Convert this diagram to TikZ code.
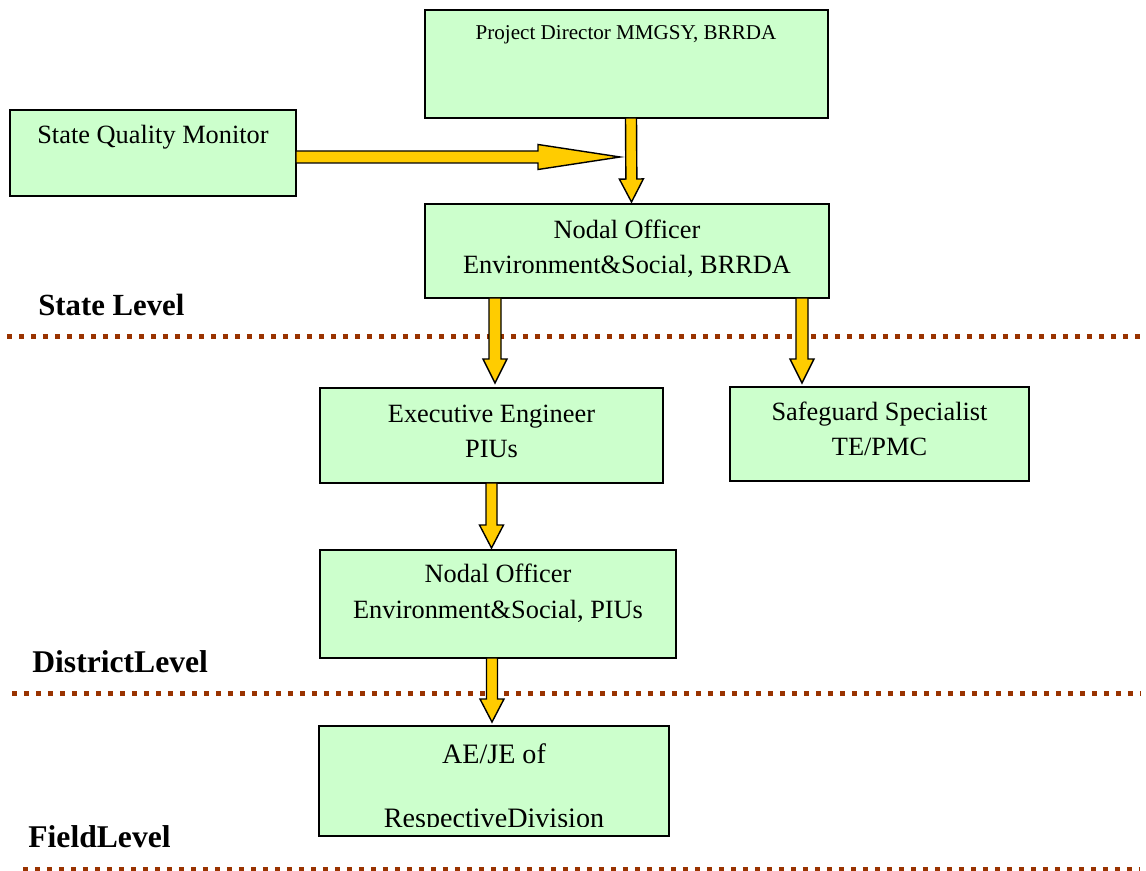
\documentclass[tikz,border=0pt]{standalone}
\usepackage{fontspec}
\setmainfont{Liberation Serif}
\usepackage{xcolor}
\usetikzlibrary{calc}
\definecolor{boxgreen}{RGB}{204,255,204}
\definecolor{arrowgold}{RGB}{255,204,0}
\definecolor{levelbrown}{RGB}{153,51,0}
\tikzstyle{unitbox} = [draw=black, line width=1pt, fill=boxgreen, inner sep=0pt, outer sep=0pt]
\tikzstyle{boxtext} = [font=\fontsize{15}{20}\selectfont, align=center, anchor=base, inner sep=0pt]
\tikzstyle{leveltext} = [font=\fontsize{18}{20}\selectfont\bfseries, anchor=base west, inner sep=0pt]
\tikzstyle{levelline} = [levelbrown, line width=0.1cm, dash pattern=on 0.1cm off 0.14cm]
\tikzstyle{blockarrow} = [draw=black, line width=0.8pt, fill=arrowgold, line join=miter]
% fat arrow: shaft half width, head half width, head length, from, to
\newcommand{\blockarrow}[5]{%
    \coordinate (ba-s) at (#4);
    \coordinate (ba-e) at (#5);
    \coordinate (ba-h) at ($(ba-e)!#3!(ba-s)$);
    \draw[blockarrow] ($(ba-s)!#1!90:(ba-e)$) -- ($(ba-h)!#1!90:(ba-e)$) -- ($(ba-h)!#2!90:(ba-e)$)
        -- (ba-e) -- ($(ba-h)!#2!-90:(ba-e)$) -- ($(ba-h)!#1!-90:(ba-e)$) -- ($(ba-s)!#1!-90:(ba-e)$) -- cycle;
}

\begin{document}
\begin{tikzpicture}[x=0.02cm, y=-0.02cm]
    \useasboundingbox (0,0) rectangle (1146,871);

    % State level
    \node[unitbox, minimum width=8.06cm, minimum height=2.16cm] (pd) at (626.5,64) {};
    \node[boxtext, font=\fontsize{12}{14}\selectfont] (pdtext) at (626,40) {Project Director MMGSY, BRRDA};

    \node[unitbox, minimum width=5.72cm, minimum height=1.72cm] (sqm) at (153,153) {};
    \node[boxtext] (sqmtext) at (153,144) {State Quality Monitor};

    \node[unitbox, minimum width=8.08cm, minimum height=1.88cm] (no1) at (627,251) {};
    \node[boxtext] (no1text) at (627,274) {Nodal Officer\\Environment\&Social, BRRDA};

    \node[leveltext, font=\fontsize{17.5}{20}\selectfont\bfseries] (statelbl) at (38,316) {State Level};
    \draw[levelline] (7,337) -- (1140,337);

    % District level
    \node[unitbox, minimum width=6.86cm, minimum height=1.90cm] (ee) at (491.5,435.5) {};
    \node[boxtext] (eetext) at (491.5,458) {Executive Engineer\\PIUs};

    \node[unitbox, minimum width=5.98cm, minimum height=1.88cm] (ss) at (879.5,434) {};
    \node[boxtext] (sstext) at (879.5,456) {Safeguard Specialist\\TE/PMC};

    \node[unitbox, minimum width=7.12cm, minimum height=2.16cm] (no2) at (498,604) {};
    \node[boxtext] (no2text) at (498,618) {Nodal Officer\\Environment\&Social, PIUs};

    \node[leveltext] (districtlbl) at (32,672) {DistrictLevel};
    \draw[levelline] (12,693) -- (1140,693);

    % Field level
    \node[unitbox, minimum width=7.00cm, minimum height=2.20cm] (ae) at (494,781) {};
    \begin{scope}
        \clip (ae.north west) rectangle ($(ae.south east)+(0,-9)$);
        \node[boxtext, font=\fontsize{16}{36.3}\selectfont] (aetext) at (494,827) {AE/JE of\\RespectiveDivision};
    \end{scope}

    \node[leveltext] (fieldlbl) at (28,847) {FieldLevel};
    \draw[levelline] (23,869) -- (1140,869);

    % Arrows
    \coordinate (meet) at (620,157);
    \blockarrow{0.12cm}{0.25cm}{1.64cm}{sqm.east |- meet}{meet}
    \blockarrow{0.11cm}{0.24cm}{0.46cm}{$(pd.south)+(4.5,0)$}{$(no1.north)+(4.5,-2)$}
    \blockarrow{0.12cm}{0.24cm}{0.48cm}{$(no1.south -| ee.north)+(3.5,0)$}{$(ee.north)+(3.5,-5)$}
    \blockarrow{0.12cm}{0.24cm}{0.48cm}{$(no1.south)+(175,0)$}{$(ss.north -| no1.south)+(175,-4)$}
    \blockarrow{0.11cm}{0.24cm}{0.46cm}{ee.south}{$(no2.north -| ee.south)+(0,-2)$}
    \blockarrow{0.11cm}{0.24cm}{0.46cm}{$(no2.south)+(-6,0)$}{$(ae.north -| no2.south)+(-6,-4)$}
\end{tikzpicture}
\end{document}
